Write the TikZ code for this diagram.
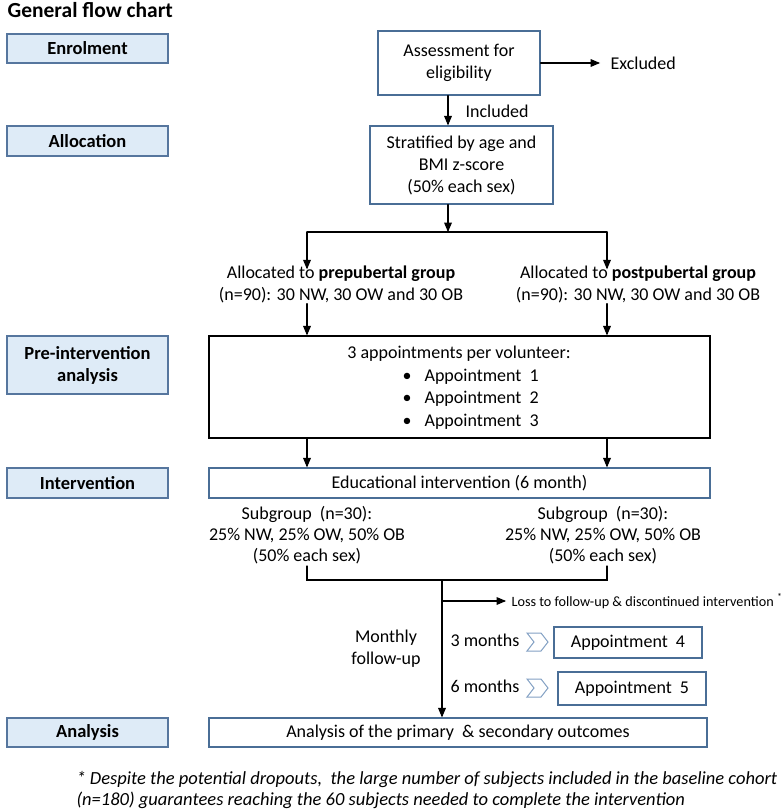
\documentclass[tikz,border=0pt]{standalone}
\usepackage{fontspec}
\setmainfont{Carlito}
\usetikzlibrary{arrows}
\definecolor{stagefill}{RGB}{222,235,247}
\definecolor{stageline}{RGB}{86,118,158}
\definecolor{boxline}{RGB}{74,110,150}
\definecolor{chevline}{RGB}{130,160,195}

\begin{document}
\begin{tikzpicture}[x=1pt, y=-1pt, line width=1.2pt, line cap=round, >=triangle 45,
    every node/.style={font=\fontsize{18}{22}\selectfont, inner sep=0pt, align=center},
    stage/.style={draw=stageline, fill=stagefill, minimum width=161pt, font=\fontsize{18.5}{22}\selectfont\bfseries},
    bluebox/.style={draw=boxline},
    blackbox/.style={draw=black}]
    \useasboundingbox (0,0) rectangle (782,811);
    \draw(7,17) node[anchor=base west, font=\fontsize{21.5}{24}\selectfont\bfseries] (title) {General flow chart};
    \draw(87.5,48.5) node[stage, minimum height=29pt] (enrol) {Enrolment};
    \draw(87.5,141) node[stage, minimum height=30pt] (alloc) {Allocation};
    \draw(87.5,365) node[stage, minimum height=58pt] (prestage) {Pre-intervention\\analysis};
    \draw(87.5,483) node[stage, minimum height=30pt] (intstage) {Intervention};
    \draw(87.5,732.5) node[stage, minimum height=29pt] (anstage) {Analysis};
    \draw(459,63) node[bluebox, minimum width=162pt, minimum height=64pt] (assess) {Assessment for\\eligibility};
    \draw(610,63) node[anchor=west] (excl) {Excluded};
    \draw(465,111) node[anchor=west] (incl) {Included};
    \draw(461.5,165) node[bluebox, minimum width=183pt, minimum height=78pt] (strat) {Stratified by age and\\BMI z-score\\(50\% each sex)};
    \coordinate (cm) at (448,232);
    \coordinate (cl) at (307,232);
    \coordinate (cr) at (607,232);
    \draw(341,284.5) node (prepub) {Allocated to \textbf{prepubertal group}\\(n=90): 30 NW, 30 OW and 30 OB};
    \draw(638,284.5) node (postpub) {Allocated to \textbf{postpubertal group}\\(n=90): 30 NW, 30 OW and 30 OB};
    \draw(459.5,387) node[blackbox, minimum width=501pt, minimum height=102pt] (prebox) {};
    \draw(459,354) node (apphead) {3 appointments per volunteer:};
    \foreach \i/\y in {1/377,2/399,3/422} {
        \draw(407,\y) node (bul\i) {\textbullet};
        \draw(424,\y) node[anchor=west] (app\i) {Appointment\ \ \i};
    }
    \draw(459.5,483) node[bluebox, minimum width=501pt, minimum height=30pt] (edu) {Educational intervention (6 month)};
    \draw(307,535) node[font=\fontsize{18}{21}\selectfont] (subl) {Subgroup\ \ (n=30):\\25\% NW,\ 25\% OW, 50\% OB\\(50\% each sex)};
    \draw(603,535) node[font=\fontsize{18}{21}\selectfont] (subr) {Subgroup\ \ (n=30):\\25\% NW,\ 25\% OW, 50\% OB\\(50\% each sex)};
    \coordinate (bl) at (307,566);
    \coordinate (br) at (607,566);
    \coordinate (join) at (442,580);
    \coordinate (lossfrom) at (442,601);
    \draw(511,601) node[anchor=west, font=\fontsize{14.2}{16}\selectfont] (loss) {Loss to follow-up \& discontinued intervention \textsuperscript{*}};
    \draw(386,649) node (monthly) {Monthly\\follow-up};
    \draw(450,640) node[anchor=west] (m3) {3 months};
    \draw(450,686) node[anchor=west] (m6) {6 months};
    \draw(628,642.5) node[bluebox, minimum width=148pt, minimum height=31pt] (app4) {Appointment\ \ 4};
    \draw(632,688.5) node[bluebox, minimum width=148pt, minimum height=33pt] (app5) {Appointment\ \ 5};
    \draw(458,732.5) node[bluebox, minimum width=498pt, minimum height=29pt] (anal) {Analysis of the primary\ \ \& secondary outcomes};
    \draw(76,790) node[anchor=west, align=left, font=\fontsize{18.5}{21}\selectfont\itshape] (note) {* Despite the potential dropouts,\ \ the large number of subjects included in the baseline cohort\\(n=180) guarantees reaching the 60 subjects needed to complete the intervention};
    \foreach \y in {642,688}
        \draw[chevline, line width=1pt, line join=miter] (527,\y-9) -- (541,\y-9) -- (548,\y) -- (541,\y+9) -- (527,\y+9) -- (534,\y) -- cycle;
    \draw[->] (assess.east) -- ([xshift=-10pt]excl.west);
    \draw[->] (assess.south -| cm) -- (strat.north -| cm);
    \draw[->] (strat.south -| cm) -- (cm);
    \draw (cl) -- (cr);
    \draw[->] (cl) -- ([yshift=-4pt]cl |- prepub.north);
    \draw[->] (cr) -- ([yshift=-4pt]cr |- postpub.north);
    \draw[->] (prepub.south -| cl) -- (prebox.north -| cl);
    \draw[->] (postpub.south -| cr) -- (prebox.north -| cr);
    \draw[->] (prebox.south -| cl) -- (edu.north -| cl);
    \draw[->] (prebox.south -| cr) -- (edu.north -| cr);
    \draw (bl) |- (join) -| (br);
    \draw[->] (join) -- (anal.north -| join);
    \draw[->] (lossfrom) -- ([xshift=-5pt]loss.west);
\end{tikzpicture}
\end{document}
